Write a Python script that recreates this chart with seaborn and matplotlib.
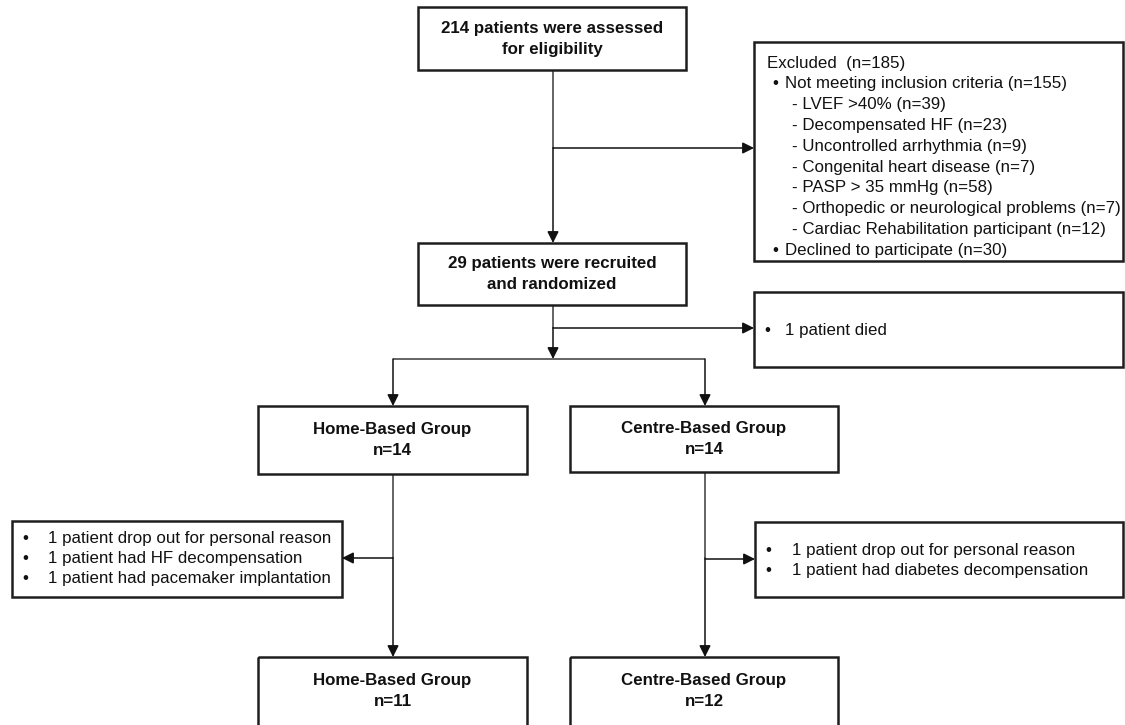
import matplotlib
matplotlib.use("Agg")
import matplotlib.pyplot as plt
from matplotlib.patches import Rectangle
import seaborn as sns

# box texts (the chart's "data")
assessed_text = ["214 patients were assessed", "for eligibility"]
randomized_text = ["29 patients were recruited", "and randomized"]
excluded_lines = [
    ("head", "Excluded  (n=185)"),
    ("bullet", "Not meeting inclusion criteria (n=155)"),
    ("sub", "- LVEF >40% (n=39)"),
    ("sub", "- Decompensated HF (n=23)"),
    ("sub", "- Uncontrolled arrhythmia (n=9)"),
    ("sub", "- Congenital heart disease (n=7)"),
    ("sub", "- PASP > 35 mmHg (n=58)"),
    ("sub", "- Orthopedic or neurological problems (n=7)"),
    ("sub", "- Cardiac Rehabilitation participant (n=12)"),
    ("bullet", "Declined to participate (n=30)"),
]
died_lines = ["1 patient died"]
groups = ["Home-Based Group", "Centre-Based Group"]
n_allocated = [14, 14]
n_final = [11, 12]
home_dropout = ["1 patient drop out for personal reason",
                "1 patient had HF decompensation",
                "1 patient had pacemaker implantation"]
centre_dropout = ["1 patient drop out for personal reason",
                  "1 patient had diabetes decompensation"]

# layout in pixel units (x0, y0, x1, y1), y grows downward
layout = {
    "assessed": (418, 7, 686, 70),
    "excluded": (754, 42, 1123, 261),
    "randomized": (418, 243, 686, 305),
    "died": (754, 292, 1123, 367),
    "alloc": [(258, 406, 527, 474), (570, 406, 838, 472)],
    "drop": [(12, 521, 342, 597), (755, 522, 1123, 597)],
    "final": [(258, 657, 527, 740), (570, 657, 838, 740)],
}

sns.set_theme(style="white")
plt.rcParams["font.family"] = ["Liberation Sans", "DejaVu Sans"]

fig = plt.figure(figsize=(11.25, 7.25), dpi=100)
ax = fig.add_axes([0, 0, 1, 1])
ax.set_xlim(0, 1125)
ax.set_ylim(725, 0)
ax.axis("off")

EDGE = "#1e1e1e"
LINE = "#3a3a3a"
INK = "#111111"
FS = 12.2


def box(b):
    x0, y0, x1, y1 = b
    ax.add_patch(Rectangle((x0, y0), x1 - x0, y1 - y0, fill=False,
                           edgecolor=EDGE, lw=1.8, zorder=3))


def centre_text(b, lines, dy=21):
    x0, y0, x1, y1 = b
    cx = (x0 + x1) / 2
    cy = (y0 + y1) / 2
    start = cy - dy * (len(lines) - 1) / 2
    for i, t in enumerate(lines):
        ax.text(cx, start + i * dy, t, ha="center", va="center",
                fontsize=FS, fontweight="bold", color=INK)


def bullets(xb, xt, y, lines, dy=20.3):
    for i, t in enumerate(lines):
        ax.text(xb, y + i * dy, "\u2022", ha="left", va="center", fontsize=FS, color=INK)
        ax.text(xt, y + i * dy, t, ha="left", va="center", fontsize=FS, color=INK)


def seg(p, q):
    ax.plot([p[0], q[0]], [p[1], q[1]], color=LINE, lw=1.1, zorder=2,
            solid_capstyle="butt")


def arrow(p, q):
    ax.annotate("", xy=q, xytext=p,
                arrowprops=dict(arrowstyle="-|>", color=INK, lw=1.1,
                                mutation_scale=17, shrinkA=0, shrinkB=0),
                zorder=4)


# boxes
box(layout["assessed"])
centre_text(layout["assessed"], assessed_text)
box(layout["randomized"])
centre_text(layout["randomized"], randomized_text)

# excluded box
box(layout["excluded"])
y = 63
for kind, t in excluded_lines:
    if kind == "head":
        ax.text(767, y, t, ha="left", va="center", fontsize=FS, color=INK)
    elif kind == "bullet":
        ax.text(772, y, "\u2022", ha="left", va="center", fontsize=FS, color=INK)
        ax.text(785, y, t, ha="left", va="center", fontsize=FS, color=INK)
    else:
        ax.text(792, y, t, ha="left", va="center", fontsize=FS, color=INK)
    y += 20.8

# died box
box(layout["died"])
bullets(764, 785, 330, died_lines)

# allocation and final boxes
for i in range(2):
    box(layout["alloc"][i])
    centre_text(layout["alloc"][i], [groups[i], f"n={n_allocated[i]}"])
    box(layout["final"][i])
    x0, y0, x1, y1 = layout["final"][i]
    for j, t in enumerate([groups[i], f"n={n_final[i]}"]):
        ax.text((x0 + x1) / 2, 681 + j * 21, t, ha="center", va="center",
                fontsize=FS, fontweight="bold", color=INK)

# dropout boxes
box(layout["drop"][0])
bullets(22, 48, 538, home_dropout)
box(layout["drop"][1])
bullets(765, 792, 550, centre_dropout)

# connectors
cx = 553
seg((cx, 70), (cx, 148))
arrow((cx, 148), (cx, 243))
arrow((cx, 148), (754, 148))
seg((cx, 305), (cx, 328))
arrow((cx, 328), (754, 328))
arrow((cx, 328), (cx, 359))
xs = [393, 705]
seg((xs[0], 359), (xs[1], 359))
for i, x in enumerate(xs):
    arrow((x, 359), (x, 406))
    top = layout["alloc"][i][3]
    seg((x, top), (x, 558))
    arrow((x, 558), (x, 657))
arrow((xs[0], 558), (342, 558))
arrow((xs[1], 559), (755, 559))

fig.savefig("out.png", dpi=100, facecolor="white")
